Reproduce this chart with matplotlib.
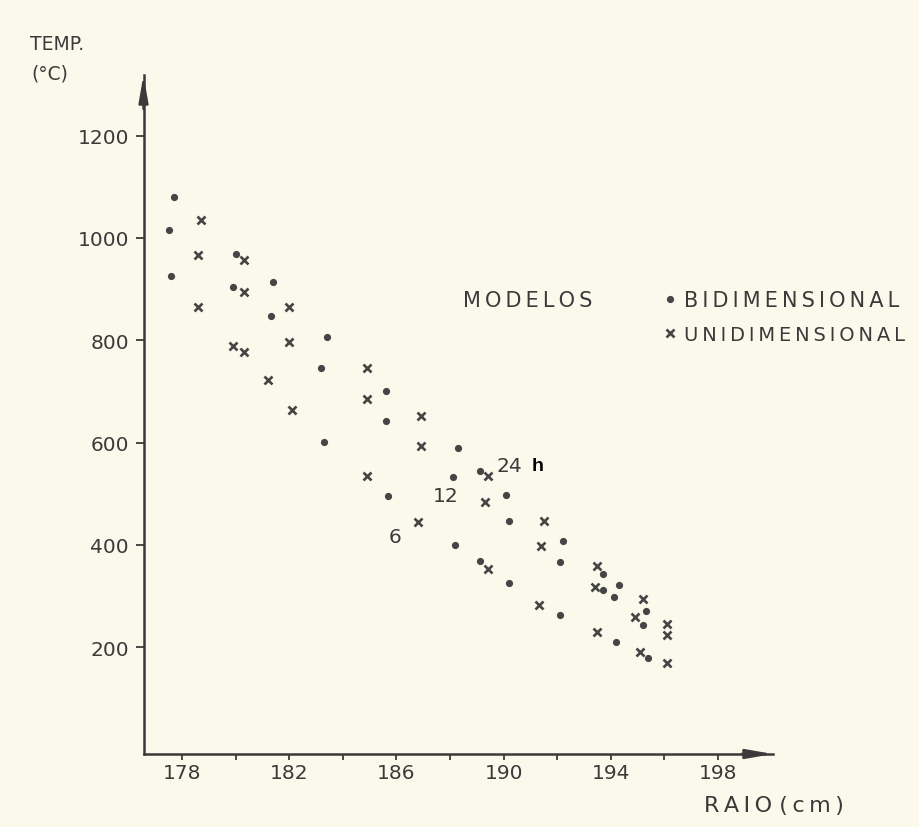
import matplotlib
matplotlib.use("Agg")
import matplotlib.pyplot as plt

BG = "#fbf9eb"
INK = "#3a3a3a"
FONT = "DejaVu Sans"

# temperature profiles through the wall, two models
bi_raio = [177.7, 177.5, 177.6, 180.0, 179.9, 181.4, 181.3, 183.4, 183.2, 183.3,
           185.6, 185.6, 185.7, 188.3, 188.1, 189.1, 190.1, 190.2, 188.2, 192.2,
           189.1, 192.1, 190.2, 193.7, 193.7, 194.3, 194.1, 192.1, 195.3, 195.2,
           194.2, 195.4]
bi_temp = [1080, 1016, 926, 969, 904, 914, 848, 807, 746, 601,
           701, 642, 496, 590, 533, 545, 498, 447, 400, 408,
           369, 367, 326, 343, 312, 322, 298, 263, 271, 244,
           210, 179]

uni_raio = [178.7, 178.6, 180.3, 178.6, 180.3, 182.0, 179.9, 180.3, 182.0, 181.2,
            182.1, 184.9, 184.9, 186.9, 186.9, 184.9, 189.4, 189.3, 186.8, 191.5,
            191.4, 189.4, 193.5, 193.4, 191.3, 195.2, 194.9, 196.1, 196.1, 193.5,
            195.1, 196.1]
uni_temp = [1035, 967, 957, 866, 895, 866, 789, 778, 797, 723,
            664, 746, 686, 652, 594, 535, 535, 484, 445, 447,
            398, 353, 359, 318, 283, 295, 259, 246, 224, 230,
            191, 169]

x_major = [178, 182, 186, 190, 194, 198]
x_minor = [180, 184, 188, 192, 196]
y_ticks = [200, 400, 600, 800, 1000, 1200]

# time labels next to the curves: (text, raio, temp)
hour_labels = [("6", 185.7, 406), ("12", 187.37, 486), ("24", 189.72, 545)]


def spaced(s):
    # stencil lettering is set wide; open it up with thin spaces
    return "\u2009".join(s)


W, H = 919, 828
fig = plt.figure(figsize=(W / 100, H / 100), dpi=100, facecolor=BG)
ax = fig.add_axes([143.5 / W, (H - 755) / H, (773 - 143.5) / W, (755 - 76) / H])
ax.set_facecolor(BG)
ax.set_xlim(176.56, 200.05)
ax.set_ylim(-8.6, 1318.6)

bi, = ax.plot(bi_raio, bi_temp, "o", ms=5.2, color="#454545", mec="none",
              label=spaced("BIDIMENSIONAL"))
uni, = ax.plot(uni_raio, uni_temp, "x", ms=6, mew=1.9, color="#454545",
               label=spaced("UNIDIMENSIONAL"))

for s in ("top", "right"):
    ax.spines[s].set_visible(False)
for s in ("left", "bottom"):
    ax.spines[s].set_linewidth(1.8)
    ax.spines[s].set_color(INK)

# arrow heads on both axes
head = dict(arrowstyle="-|>,head_length=0.8,head_width=0.14", color=INK, lw=1.8,
            shrinkA=0, shrinkB=0, mutation_scale=20)
ax.annotate("", xy=(1, 0), xytext=(0.95, 0), xycoords="axes fraction",
            arrowprops=head, annotation_clip=False)
ax.annotate("", xy=(0, 1), xytext=(0, 0.95), xycoords="axes fraction",
            arrowprops=head, annotation_clip=False)

ax.set_xticks(x_major)
ax.set_xticks(x_minor, minor=True)
ax.set_yticks(y_ticks)
ax.tick_params(axis="x", which="both", direction="out", length=4.5, width=1.3,
               color=INK, pad=2, labelsize=14.5, labelcolor=INK)
ax.tick_params(axis="y", direction="out", length=5.5, width=1.3, color=INK,
               pad=5, labelsize=14.5, labelcolor=INK)
for lab in ax.get_xticklabels() + ax.get_yticklabels():
    lab.set_family(FONT)

for txt, xr, yt in hour_labels:
    ax.text(xr, yt, txt, fontsize=14.5, color=INK, family=FONT,
            ha="left", va="baseline")
ax.text(191.06, 547, "h", fontsize=14, color="black", fontweight="bold",
        family="Liberation Sans", ha="left", va="baseline")

fig.text(30 / W, 1 - 50 / H, "TEMP.", fontsize=13.5, color=INK, family=FONT,
         va="baseline")
fig.text(31 / W, 1 - 80 / H, "(°C)", fontsize=13.5, color=INK, family=FONT,
         va="baseline")
fig.text(704 / W, 1 - 812 / H, spaced("RAIO") + " " + spaced("(cm)"), fontsize=16,
         color=INK, family=FONT, va="baseline")
fig.text(463 / W, 1 - 307 / H, spaced("MODELOS"), fontsize=15, color=INK,
         family=FONT, va="baseline")

leg = ax.legend(handles=[bi, uni], loc="upper left",
                bbox_to_anchor=(654 / W, 1 - 281 / H), bbox_transform=fig.transFigure,
                frameon=False, borderpad=0, handlelength=0.5, handletextpad=0.45,
                labelspacing=0.72, prop=dict(family=FONT, size=15))
for t in leg.get_texts():
    t.set_color(INK)
leg.get_texts()[1].set_fontsize(14)

fig.savefig("out.png", dpi=100, facecolor=BG)
